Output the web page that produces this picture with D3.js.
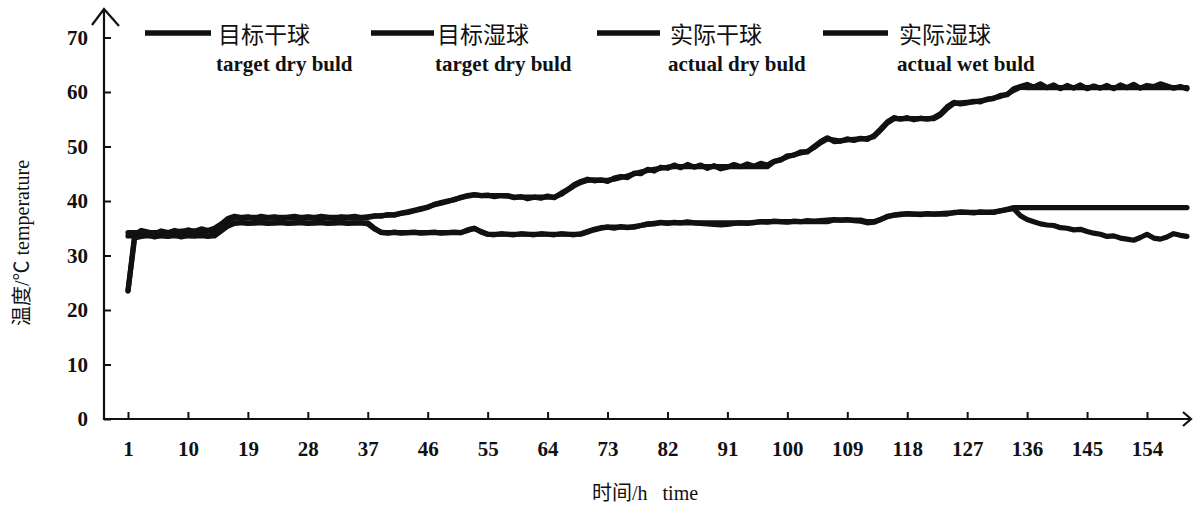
<!DOCTYPE html>
<html><head><meta charset="utf-8">
<script src="https://cdn.jsdelivr.net/npm/d3@7"></script>
<style>html,body{margin:0;padding:0;background:#fff;}svg{display:block;}</style>
</head><body>
<svg id="chart" width="1193" height="506"></svg>
<script>
// ---------------- data ----------------
const hourStart = 1, hourEnd = 160;
const xTicks = [1,10,19,28,37,46,55,64,73,82,91,100,109,118,127,136,145,154];
const yTicks = [0,10,20,30,40,50,60,70];
const seriesNames = ["目标干球","目标湿球","实际干球","实际湿球"];
const seriesNamesEn = ["target dry buld","target dry buld","actual dry buld","actual wet buld"];

// target dry bulb, hours 1..160
const targetDry = [
34.2,34.2,34.2,34.2,34.2,34.2,34.2,34.2,
34.5,34.5,34.5,34.5,34.5,34.5,
35.4,36.4,
37.0,37.0,37.0,37.0,37.0,37.0,37.0,37.0,37.0,37.0,37.0,37.0,37.0,37.0,37.0,37.0,37.0,37.0,37.0,37.0,37.0,
37.2,37.3,37.4,37.5,37.7,37.9,38.2,38.5,38.9,39.3,39.6,39.9,40.3,40.6,40.9,41.1,
41.0,41.0,41.0,41.0,41.0,
40.7,40.7,40.7,40.7,40.7,40.7,40.7,
41.2,42.0,42.8,43.4,43.8,43.9,43.8,43.8,44.0,44.3,44.6,45.0,45.3,45.6,45.8,46.0,46.2,
46.3,46.3,46.3,46.3,46.3,46.3,46.3,46.3,46.3,46.3,46.3,46.3,46.3,46.3,46.3,
47.2,47.6,48.1,48.5,48.8,49.1,49.8,50.7,51.4,51.2,51.0,51.2,51.3,51.4,51.5,51.8,53.0,54.3,55.1,
55.1,55.1,55.1,55.1,55.1,55.1,
55.8,57.0,57.9,58.0,58.1,58.2,58.4,58.6,58.9,59.2,59.6,60.3,60.9,
60.8,60.8,60.8,60.8,60.8,60.8,60.8,60.8,60.8,60.8,60.8,60.8,60.8,60.8,60.8,60.8,60.8,60.8,60.8,60.8,60.8,60.8,60.8,60.8,60.8
];
// target wet bulb
const targetWet = [
33.6,33.6,33.6,33.6,33.6,33.6,33.6,33.6,33.6,33.6,33.6,33.6,33.6,33.6,
34.5,35.5,
36.0,36.0,36.0,36.0,36.0,36.0,36.0,36.0,36.0,36.0,36.0,36.0,36.0,36.0,36.0,36.0,36.0,36.0,36.0,36.0,36.0,
35.0,
34.2,34.2,34.2,34.2,34.2,34.2,34.2,34.2,34.2,34.2,34.2,34.2,34.2,
34.6,35.0,34.4,
33.9,33.9,33.9,33.9,33.9,33.9,33.9,33.9,33.9,33.9,33.9,33.9,33.9,33.9,33.9,
34.3,34.7,35.0,
35.2,35.2,35.2,35.2,35.2,
35.5,35.7,35.9,
36.0,36.0,36.0,36.0,36.0,36.0,36.0,36.0,36.0,36.0,36.0,36.0,36.0,36.0,36.0,
36.2,36.2,36.2,36.2,36.2,36.2,36.2,36.2,36.2,36.2,36.2,
36.5,36.5,36.5,36.5,36.5,
36.2,36.2,36.6,37.1,37.4,
37.6,37.6,37.6,37.6,37.6,37.6,37.6,37.6,
37.9,37.9,37.9,37.9,37.9,37.9,37.9,
38.2,38.5,
38.8,38.8,38.8,38.8,38.8,38.8,38.8,38.8,38.8,38.8,38.8,38.8,38.8,38.8,38.8,38.8,38.8,38.8,38.8,38.8,38.8,38.8,38.8,38.8,38.8,38.8,38.8
];
// actual dry bulb
const actualDry = [
23.5,33.8,34.6,34.3,34.0,34.5,34.2,34.6,34.3,34.7,34.4,34.9,34.6,35.0,35.8,36.8,
37.2,36.9,37.1,36.8,37.2,36.9,37.1,36.8,37.0,37.2,36.9,37.1,36.9,37.2,37.0,36.8,37.1,37.0,37.2,36.9,37.1,
37.3,37.2,37.5,37.4,37.8,38.0,38.3,38.6,38.8,39.4,39.7,40.0,40.2,40.7,41.0,41.2,
41.0,41.1,40.8,41.0,40.9,
40.6,40.8,40.4,40.7,40.5,40.9,40.6,
41.4,42.1,43.0,43.6,44.0,43.7,43.9,43.6,44.2,44.5,44.3,45.1,45.0,45.8,45.5,46.2,46.0,
46.6,46.1,46.7,46.2,46.6,46.0,46.5,45.9,46.2,46.7,46.3,46.8,46.4,46.9,46.6,
47.3,47.5,48.3,48.4,49.0,49.0,50.0,50.9,51.6,50.9,51.0,51.4,51.1,51.5,51.3,52.0,53.2,54.5,55.3,
55.0,55.3,54.9,55.2,55.0,55.3,
56.0,57.3,58.1,57.8,58.0,58.3,58.2,58.7,58.8,59.4,59.5,60.6,61.0,
61.4,60.9,61.5,60.8,61.3,60.6,61.2,60.7,61.3,60.6,61.1,60.7,61.2,60.6,61.3,60.8,61.4,60.7,61.2,61.0,61.5,61.1,60.7,61.0,60.6
];
// actual wet bulb
const actualWet = [
23.5,33.2,
33.5,33.8,33.4,33.7,33.5,33.8,33.4,33.7,33.6,33.9,33.5,33.8,
34.6,35.4,
35.9,36.1,35.9,36.0,36.1,35.9,36.0,36.1,35.9,36.0,36.1,35.9,36.0,36.1,35.9,36.0,36.1,35.9,36.0,36.0,35.8,
34.9,34.3,34.1,34.3,34.1,34.2,34.3,34.1,34.2,34.3,34.1,34.2,34.3,34.2,34.7,35.0,34.3,
33.9,33.8,34.0,33.9,33.8,34.0,33.9,33.8,34.0,33.9,33.8,34.0,33.9,33.8,34.0,
34.4,34.8,35.1,35.2,35.0,35.3,35.1,35.3,35.5,35.8,35.8,
36.1,35.9,36.1,36.0,36.2,36.0,35.9,35.8,35.7,35.6,35.7,35.9,36.0,35.9,36.1,
36.2,36.1,36.3,36.2,36.1,36.3,36.2,36.4,36.3,36.4,36.5,
36.6,36.5,36.6,36.4,36.3,36.0,36.1,36.6,37.2,37.4,
37.5,37.7,37.6,37.5,37.7,37.6,37.7,37.8,
37.8,38.0,37.9,37.8,38.0,37.9,38.0,
38.2,38.4,38.6,37.3,36.6,36.2,35.8,35.6,35.5,35.1,35.0,34.7,34.8,34.4,34.1,33.9,33.5,33.6,33.2,33.0,32.8,33.3,33.9,33.2,33.0,33.4,34.0,33.7,33.5
];

// ---------------- chart ----------------
const svg = d3.select("#chart");
const x = d3.scaleLinear().domain([hourStart, 154]).range([128, 1147]);
const y = d3.scaleLinear().domain([0, 70]).range([419, 37.5]);
const ink = "#111";
const serif = "'Liberation Serif','Times New Roman','Noto Sans CJK SC',serif";

// axes
const yAxis = d3.axisLeft(y).tickValues(yTicks).tickSizeInner(-7).tickSizeOuter(0).tickPadding(16);
const gy = svg.append("g").attr("transform", "translate(104,0)").call(yAxis);
gy.select(".domain").remove();
gy.selectAll("line").attr("stroke", ink).attr("stroke-width", 2);
gy.selectAll("text").attr("font-family", serif).attr("font-size", 21).attr("font-weight", "bold").attr("fill", ink);

const xAxis = d3.axisBottom(x).tickValues(xTicks).tickSizeInner(-7).tickSizeOuter(0).tickPadding(22).tickFormat(d3.format("d"));
const gx = svg.append("g").attr("transform", "translate(0,419)").call(xAxis);
gx.select(".domain").remove();
gx.selectAll("line").attr("stroke", ink).attr("stroke-width", 2);
gx.selectAll("text").attr("font-family", serif).attr("font-size", 21).attr("font-weight", "bold").attr("fill", ink);

// axis lines with arrows
svg.append("path").attr("d", "M104,420 L104,9 M92,25 L104,9 L119,26")
  .attr("fill", "none").attr("stroke", ink).attr("stroke-width", 2.2).attr("stroke-linejoin", "miter");
svg.append("path").attr("d", "M103,419 L1191,419 M1183,412 L1191,419 L1183,426")
  .attr("fill", "none").attr("stroke", ink).attr("stroke-width", 2.2);

// lines
const hours = d3.range(hourStart, hourEnd + 1);
const line = d3.line().x((d, i) => x(hours[i])).y(d => y(d)).curve(d3.curveLinear);
[targetWet, actualWet, targetDry, actualDry].forEach(s => {
  svg.append("path").datum(s).attr("d", line)
    .attr("fill", "none").attr("stroke", ink).attr("stroke-width", 5.2)
    .attr("stroke-linejoin", "round").attr("stroke-linecap", "round");
});

// legend
const legX0 = [145, 371, 597, 823];
const legX1 = [211, 434, 660, 888];
const legT = [218, 437, 670, 899];
seriesNames.forEach((n, i) => {
  svg.append("line").attr("x1", legX0[i]).attr("x2", legX1[i]).attr("y1", 33).attr("y2", 33)
    .attr("stroke", ink).attr("stroke-width", 5.5);
  svg.append("text").attr("x", legT[i]).attr("y", 43).text(n)
    .attr("font-family", "'Noto Sans CJK SC',sans-serif").attr("font-size", 23).attr("fill", ink);
  svg.append("text").attr("x", legT[i] - 2).attr("y", 71).text(seriesNamesEn[i])
    .attr("font-family", serif).attr("font-size", 21).attr("font-weight", "bold").attr("fill", ink);
});

// axis titles
svg.append("text").attr("transform", "translate(29,243) rotate(-90)").attr("text-anchor", "middle")
  .attr("font-family", serif).attr("font-size", 20).attr("fill", ink).text("温度/℃ temperature");
svg.append("text").attr("x", 592).attr("y", 500)
  .attr("font-family", serif).attr("font-size", 20).attr("fill", ink)
  .text("时间/h\u00a0\u00a0\u00a0time");
</script>
</body></html>
